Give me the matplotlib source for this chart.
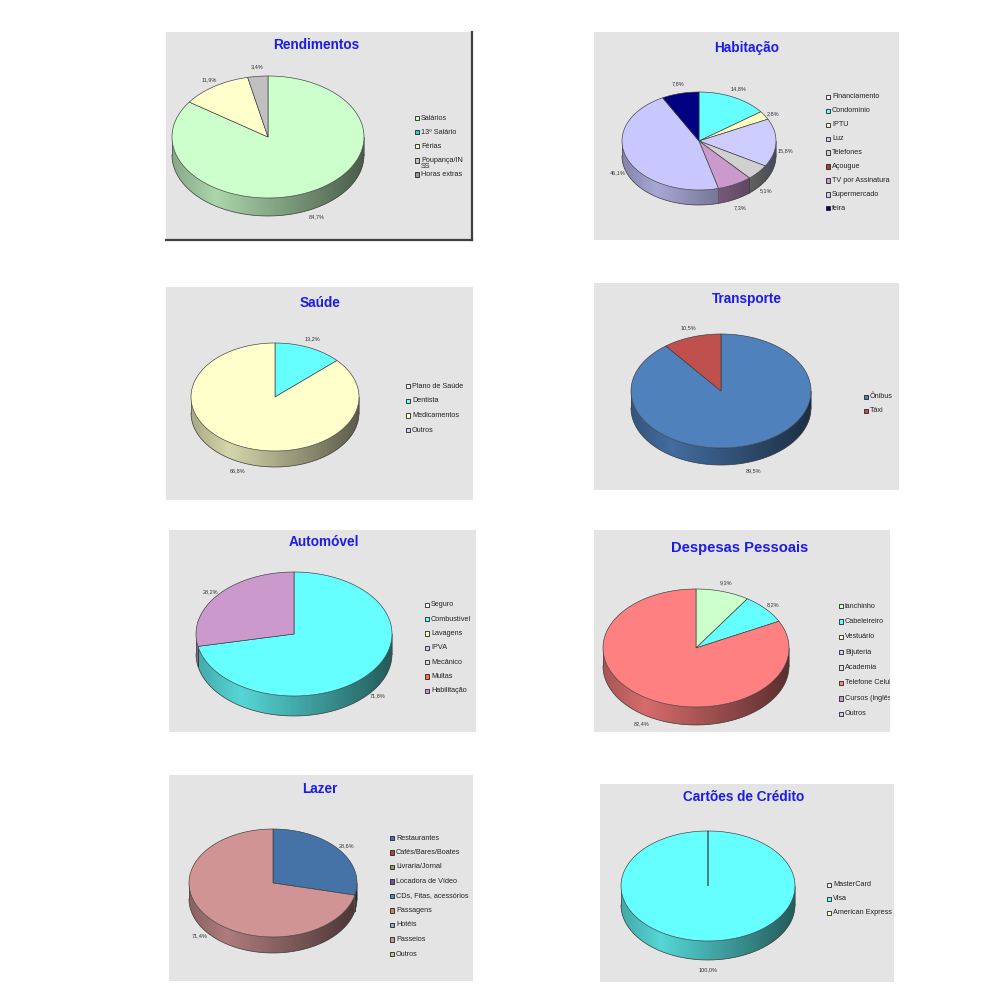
import numpy as np
import matplotlib
matplotlib.use('Agg')
import matplotlib.pyplot as plt
from matplotlib.patches import Polygon, Rectangle
from matplotlib.colors import to_rgb

plt.rcParams['font.family'] = ['Liberation Sans', 'DejaVu Sans']

# --- chart data (values in %) ---
rend_labels = ['Salários', '13º Salário', 'Férias', 'Poupança/IN\nSS', 'Horas extras']
rend_values = [84.7, 0, 11.9, 3.4, 0]
rend_colors = ['#ccffcc', '#33cccc', '#ffffcc', '#c0c0c0', '#969696']

hab_labels = ['Financiamento', 'Condomínio', 'IPTU', 'Luz', 'Telefones', 'Açougue',
              'TV por Assinatura', 'Supermercado', 'feira']
hab_values = [0, 14.8, 2.8, 15.8, 5.1, 0, 7.3, 46.1, 7.8]
hab_colors = ['#ffffff', '#66ffff', '#ffffc0', '#ccccff', '#d0d0d0', '#b04020',
              '#cc99cc', '#c8c8ff', '#000080']

sau_labels = ['Plano de Saúde', 'Dentista', 'Medicamentos', 'Outros']
sau_values = [0, 13.2, 86.8, 0]
sau_colors = ['#ffffff', '#66ffff', '#ffffcc', '#ccccff']

tra_labels = ['Ônibus', 'Táxi']
tra_values = [89.5, 10.5]
tra_colors = ['#4f81bd', '#c0504d']

aut_labels = ['Seguro', 'Combustível', 'Lavagens', 'IPVA', 'Mecânico', 'Multas', 'Habilitação']
aut_values = [0, 71.8, 0, 0, 0, 0, 28.2]
aut_colors = ['#ffffff', '#66ffff', '#ffffcc', '#ccccff', '#e0e0e0', '#ff7040', '#cc99cc']

des_labels = ['lanchinho', 'Cabeleireiro', 'Vestuário', 'Bijuteria', 'Academia',
              'Telefone Celular', 'Cursos (inglês)', 'Outros']
des_values = [9.3, 8.2, 0, 0, 0, 82.4, 0, 0]
des_colors = ['#ccffcc', '#66ffff', '#ffffcc', '#ccccff', '#e0e0e0', '#ff8080',
              '#cc99cc', '#ccccff']

laz_labels = ['Restaurantes', 'Cafés/Bares/Boates', 'Livraria/Jornal', 'Locadora de Vídeo',
              'CDs, Fitas, acessórios', 'Passagens', 'Hotéis', 'Passeios', 'Outros']
laz_values = [28.6, 0, 0, 0, 0, 0, 0, 71.4, 0]
laz_colors = ['#4572a7', '#aa4643', '#89a54e', '#71588f', '#4198af', '#db843d',
              '#93a9cf', '#d09494', '#b9cd96']

car_labels = ['MasterCard', 'Visa', 'American Express']
car_values = [0, 100.0, 0]
car_colors = ['#ffffff', '#66ffff', '#ffffcc']

# --- layout (figure pixels): panel box, pie centre/radii/depth, legend x/y0/step, title ---
panels = [
    dict(title='Rendimentos', labels=rend_labels, values=rend_values, colors=rend_colors,
         box=(166, 32, 472, 240), pie=(268, 137, 96, 61, 18), legend=(417, 118, 14.1),
         tpos=(316, 45), tsize=9.8, border=True),
    dict(title='Habitação', labels=hab_labels, values=hab_values, colors=hab_colors,
         box=(594, 32, 899, 240), pie=(699, 141, 77, 49, 15), legend=(828, 97, 13.9),
         tpos=(747, 48), tsize=9.8),
    dict(title='Saúde', labels=sau_labels, values=sau_values, colors=sau_colors,
         box=(166, 287, 473, 500), pie=(275, 397, 84, 54, 16), legend=(408, 386, 14.7),
         tpos=(320, 303), tsize=9.8),
    dict(title='Transporte', labels=tra_labels, values=tra_values, colors=tra_colors,
         box=(594, 283, 899, 490), pie=(721, 391, 90, 57, 17), legend=(866, 397, 14),
         tpos=(747, 299), tsize=9.8),
    dict(title='Automóvel', labels=aut_labels, values=aut_values, colors=aut_colors,
         box=(169, 530, 476, 732), pie=(294, 634, 98, 62, 20), legend=(427, 605, 14.3),
         tpos=(324, 542), tsize=9.8),
    dict(title='Despesas Pessoais', labels=des_labels, values=des_values, colors=des_colors,
         box=(594, 530, 890, 732), pie=(696, 648, 93, 59, 18), legend=(841, 606, 15.4),
         tpos=(740, 548), tsize=10.6),
    dict(title='Lazer', labels=laz_labels, values=laz_values, colors=laz_colors,
         box=(169, 775, 473, 981), pie=(273, 883, 84, 54, 16), legend=(392, 838, 14.5),
         tpos=(320, 789), tsize=9.8),
    dict(title='Cartões de Crédito', labels=car_labels, values=car_values, colors=car_colors,
         box=(600, 784, 894, 982), pie=(708, 886, 87, 55, 19), legend=(829, 885, 14),
         tpos=(744, 797), tsize=9.8),
]

EDGE = '#3a3a3a'
TITLE_COLOR = '#1c1ce6'


def shade(s):
    # side wall lighting: brightest a bit left of centre, dark on the right
    return np.interp(s, [-1.0, -0.55, 1.0], [0.66, 0.84, 0.36])


def ell(cx, cy, rx, ry, t, dy=0.0):
    r = np.radians(np.asarray(t, dtype=float))
    return np.column_stack([cx + rx * np.sin(r), cy - ry * np.cos(r) + dy])


def draw_pie3d(ax, values, colors, cx, cy, rx, ry, depth):
    total = float(sum(values))
    bounds = np.concatenate([[0.0], np.cumsum(values)]) / total * 360.0
    slices = [(a, b, c, v) for a, b, c, v in zip(bounds[:-1], bounds[1:], colors, values) if v > 0]

    # side walls (front half only), shaded with a horizontal gradient
    s = np.linspace(-1, 1, 200)
    for a, b, c, v in slices:
        lo, hi = max(a, 90.0), min(b, 270.0)
        if hi <= lo:
            continue
        ts = np.linspace(lo, hi, int(hi - lo) + 2)
        top = ell(cx, cy, rx, ry, ts)
        bot = ell(cx, cy, rx, ry, ts[::-1], depth)
        clip = Polygon(np.vstack([top, bot]), closed=True, facecolor='none',
                       edgecolor='none', transform=ax.transData)
        ax.add_patch(clip)
        grad = np.clip(np.array(to_rgb(c))[None, None, :] * shade(s)[None, :, None], 0, 1)
        im = ax.imshow(grad, extent=(cx - rx, cx + rx, cy + ry + depth + 1, cy - 2),
                       aspect='auto', interpolation='bilinear', zorder=1)
        im.set_clip_path(clip)

    bot = ell(cx, cy, rx, ry, np.linspace(90, 270, 150), depth)
    ax.plot(bot[:, 0], bot[:, 1], color=EDGE, lw=0.5, zorder=2)
    for t in [90.0, 270.0] + [x for x in bounds if 90 < x < 270]:
        p = ell(cx, cy, rx, ry, [t])[0]
        ax.plot([p[0], p[0]], [p[1], p[1] + depth], color=EDGE, lw=0.4, zorder=2)

    # top faces
    for a, b, c, v in slices:
        ts = np.linspace(a, b, int(b - a) + 2)
        pts = np.vstack([[cx, cy], ell(cx, cy, rx, ry, ts)])
        ax.add_patch(Polygon(pts, closed=True, facecolor=c, edgecolor=EDGE, lw=0.45, zorder=3))

    # percentage labels outside the slices
    off = 10
    for a, b, c, v in slices:
        m = np.radians((a + b) / 2)
        x = cx + (rx + off) * np.sin(m)
        y = cy - (ry + off) * np.cos(m) + depth * (0.5 - 0.5 * np.cos(m))
        txt = f"{v:.1f}%".replace('.', ',')
        ax.text(x, y, txt, fontsize=4, color='#333333', ha='center', va='center', zorder=4)


fig = plt.figure(figsize=(10, 10), dpi=100)
fig.patch.set_facecolor('white')

for p in panels:
    x0, y0, x1, y1 = p['box']
    w, h = x1 - x0, y1 - y0
    ax = fig.add_axes([x0 / 1000, 1 - y1 / 1000, w / 1000, h / 1000])
    ax.set_facecolor('#e4e4e4')
    ax.set_xticks([])
    ax.set_yticks([])
    for side, sp in ax.spines.items():
        sp.set_visible(False)
    if p.get('border'):
        # only the right and bottom edges carry a dark frame
        for side in ['right', 'bottom']:
            ax.spines[side].set_visible(True)
            ax.spines[side].set_color('#404040')
            ax.spines[side].set_linewidth(1.6)

    cx, cy, rx, ry, depth = p['pie']
    draw_pie3d(ax, p['values'], p['colors'], cx - x0, cy - y0, rx, ry, depth)

    tx, ty = p['tpos']
    ax.text(tx - x0, ty - y0, p['title'], fontsize=p['tsize'], fontweight='bold',
            color=TITLE_COLOR, ha='center', va='center')

    lx, ly0, step = p['legend']
    for i, (lab, col) in enumerate(zip(p['labels'], p['colors'])):
        ly = ly0 + i * step - y0
        ax.add_patch(Rectangle((lx - x0 - 2.2, ly - 2.2), 4.4, 4.4, facecolor=col,
                               edgecolor='#222222', lw=0.6))
        if '\n' in lab:
            ax.text(lx - x0 + 4, ly - 3.6, lab, fontsize=5.2, color='#222222', ha='left',
                    va='top', linespacing=0.85, clip_on=True)
        else:
            ax.text(lx - x0 + 4, ly, lab, fontsize=5.2, color='#222222', ha='left',
                    va='center', clip_on=True)

    ax.set_xlim(0, w)
    ax.set_ylim(h, 0)

fig.savefig('out.png', dpi=100, facecolor='white')
